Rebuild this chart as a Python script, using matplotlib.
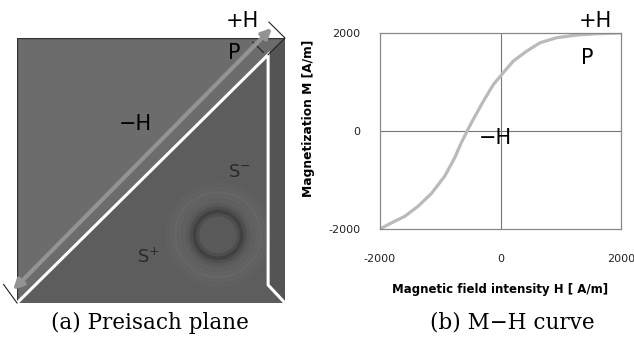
import numpy as np
import matplotlib
matplotlib.use("Agg")
import matplotlib.pyplot as plt
from matplotlib.patches import Polygon, Circle

# M-H curve (H in A/m, M in A/m)
field_h = [-2000, -1812, -1590, -1369, -1148, -926, -760, -650, -539, -451,
           -285, -119, 20, 212, 435, 656, 934, 1266, 1598, 2000]
magnet_m = [-2000, -1877, -1742, -1537, -1277, -922, -545, -238, 35, 240,
            607, 947, 1152, 1426, 1631, 1801, 1904, 1959, 1986, 2000]
tick_vals = [-2000, 0, 2000]
tick_labels = ["-2000", "0", "2000"]

# Preisach plane geometry (fraction of square)
edge = 0.937
foot = 0.068
ring_center = (0.75, 0.257)

fig = plt.figure(figsize=(6.34, 3.42), dpi=100)
W, H = 634, 342

# ---------------- (a) Preisach plane ----------------
axa = fig.add_axes([17 / W, (H - 303) / H, 268 / W, 265 / H])
axa.set_xlim(0, 1)
axa.set_ylim(0, 1)
axa.axis("off")

axa.add_patch(Polygon([(0, 0), (0, 1), (1, 1), (1, 0)], closed=True,
                      facecolor="#6c6c6c", edgecolor="#333333", lw=1.0))
axa.add_patch(Polygon([(0, 0), (edge, edge), (edge, foot), (1, 0)], closed=True,
                      facecolor="#5d5d5d", edgecolor="none"))
axa.add_patch(Polygon([(edge, edge), (1, 1), (1, 0), (edge, foot)], closed=True,
                      facecolor="#545454", edgecolor="none"))

# soft ring pattern
cx, cy = ring_center
for r, a in [(0.19, 0.10), (0.175, 0.18), (0.16, 0.28), (0.145, 0.18), (0.13, 0.10)]:
    axa.add_patch(Circle((cx, cy), r, fill=False, edgecolor="#7c7c7c", lw=2.5, alpha=a))
axa.add_patch(Circle((cx, cy), 0.118, facecolor="#575757", edgecolor="none", alpha=0.6))
for r, a in [(0.10, 0.35), (0.088, 0.8), (0.076, 0.35)]:
    axa.add_patch(Circle((cx, cy), r, fill=False, edgecolor="#3c3c3c", lw=2.5, alpha=a))

# white boundary line
axa.plot([0, edge, edge, 1], [0, edge, foot, 0], color="white", lw=2.2,
         solid_joinstyle="miter")
axa.plot([edge, 1], [edge, 1], color="#222222", lw=0.8)

# gray double arrow along the diagonal
axa.annotate("", xy=(0.951, 1.038), xytext=(-0.015, 0.049),
             arrowprops=dict(arrowstyle="<|-|>", color="#939393", lw=3,
                             mutation_scale=14, shrinkA=0, shrinkB=0),
             annotation_clip=False)
# dimension ticks at arrow ends
axa.plot([0.94, 1.0], [1.06, 1.0], color="#222222", lw=0.8, clip_on=False)
axa.plot([0.88, 0.92], [0.985, 0.945], color="#222222", lw=0.8, clip_on=False)
axa.plot([-0.05, 0.0], [0.07, 0.0], color="#222222", lw=0.8, clip_on=False)

axa.text(0.84, 1.065, "+H", fontsize=15, ha="center", va="center")
axa.text(0.81, 0.943, "P", fontsize=15, ha="center", va="center")
axa.text(0.44, 0.675, "\u2212H", fontsize=15, ha="center", va="center")
axa.text(0.83, 0.495, "S$^{-}$", fontsize=13, ha="center", va="center", color="#2a2a2a")
axa.text(0.49, 0.175, "S$^{+}$", fontsize=13, ha="center", va="center", color="#2a2a2a")

fig.text(150 / W, 1 - 323 / H, "(a) Preisach plane", family="DejaVu Serif",
         fontsize=15.5, ha="center", va="center")

# ---------------- (b) M-H curve ----------------
axb = fig.add_axes([380 / W, (H - 229) / H, 241 / W, 196 / H])
axb.plot(field_h, magnet_m, color="#bababa", lw=2.3, solid_capstyle="round",
         solid_joinstyle="round")
axb.axhline(0, color="#777777", lw=0.8, zorder=0)
axb.axvline(0, color="#777777", lw=0.8, zorder=0)
axb.set_xlim(-2000, 2000)
axb.set_ylim(-2000, 2000)
axb.set_xticks(tick_vals)
axb.set_xticklabels(tick_labels)
axb.set_yticks(tick_vals)
axb.set_yticklabels(tick_labels)
axb.tick_params(length=0, labelsize=8, colors="#222222")
axb.tick_params(axis="x", pad=18)
axb.tick_params(axis="y", pad=14)
for s in axb.spines.values():
    s.set_color("#888888")
    s.set_linewidth(0.9)
axb.set_xlabel("Magnetic field intensity H [ A/m]", fontsize=8.5, fontweight="bold",
               labelpad=14)
axb.set_ylabel("Magnetization M [A/m]", fontsize=8.8, fontweight="bold")
axb.yaxis.set_label_coords(-0.27, 0.566)

axb.text(1580, 2250, "+H", fontsize=15, ha="center", va="center")
axb.text(1440, 1500, "P", fontsize=15, ha="center", va="center")
axb.text(-80, -150, "\u2212H", fontsize=15, ha="center", va="center")

fig.text(512 / W, 1 - 323 / H, "(b) M\u2212H curve", family="DejaVu Serif",
         fontsize=15.5, ha="center", va="center")

fig.savefig("out.png", dpi=100, facecolor="white")
